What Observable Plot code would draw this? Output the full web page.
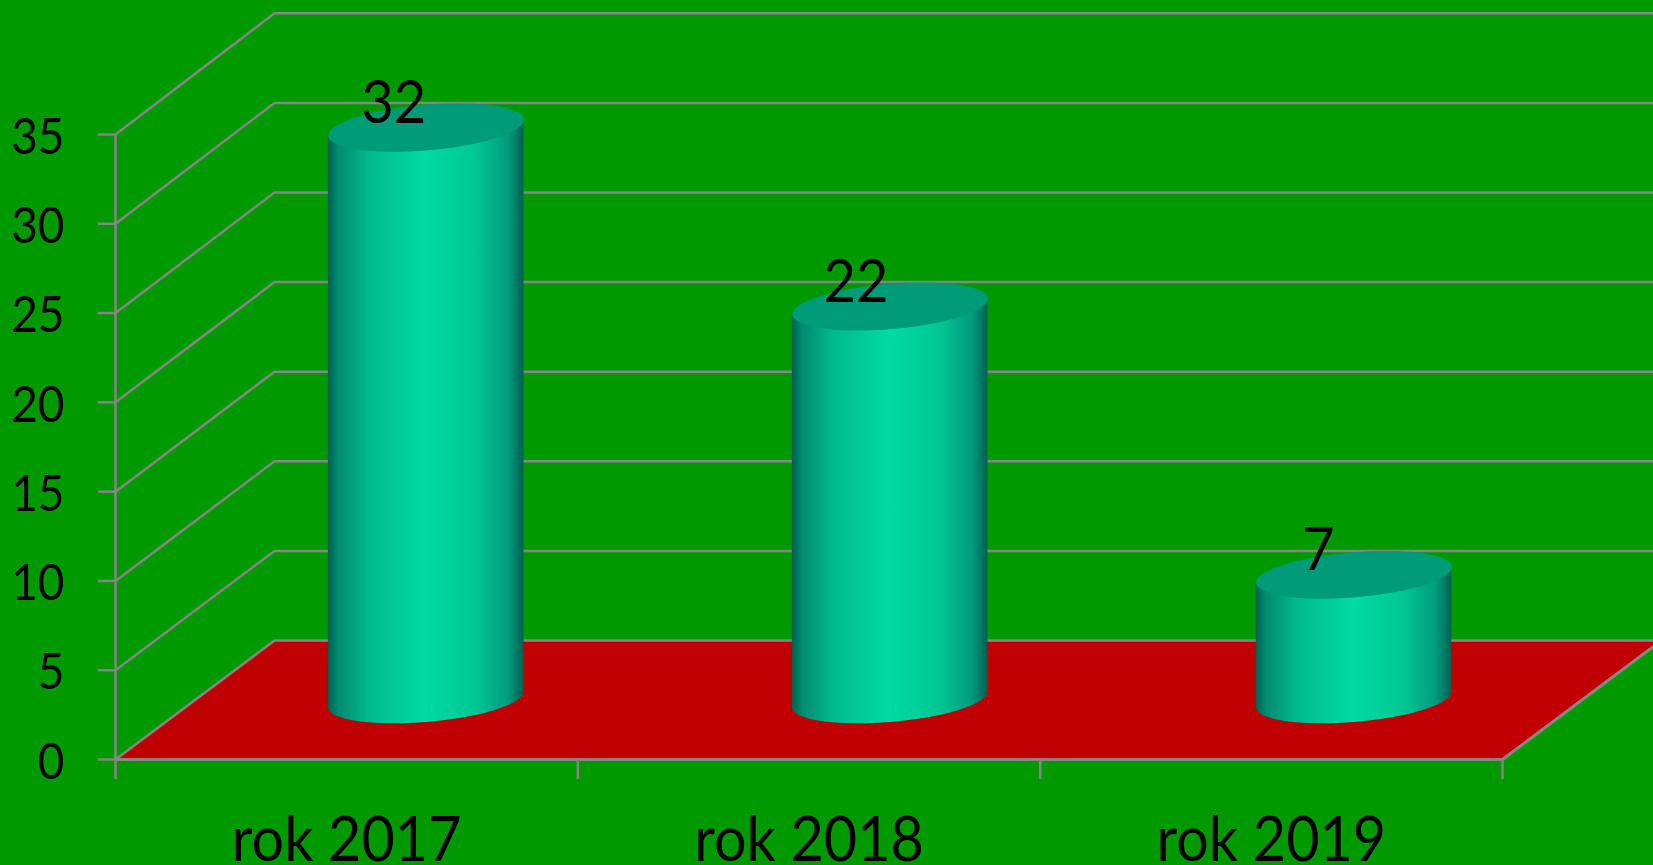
<!DOCTYPE html>
<html><head><meta charset="utf-8">
<script src="https://cdn.jsdelivr.net/npm/d3@7"></script>
<script src="https://cdn.jsdelivr.net/npm/@observablehq/plot@0.6"></script>
<style>html,body{margin:0;padding:0;background:#009900;overflow:hidden}svg{display:block}</style>
</head><body>
<script>
const categories = ["rok 2017","rok 2018","rok 2019"];
const values = [32,22,7];
const yTicks = [0,5,10,15,20,25,30,35];
const xEdges = [0,1,2,3];

const W=1653,H=865,L=115,R=1502,T=134,B=759;
const pxX=(R-L)/3, pxY=(B-T)/35;
const depthX=159, depthY=119;
// oblique projection: category position + depth (0..1) into data units
const px=(x,d)=>x+d*depthX/pxX;
const py=(v,d)=>v*(1+0.0035*d)+d*depthY/pxY;
const halfU=92.5/pxX, vDepth=0.2, spread=1.0035;
const ellipse=(c,v,t)=>{
  const ct=Math.cos(t), st=Math.sin(t);
  return {x:px(c+ct*halfU,0.5+st*vDepth), y:py(v,0.5+st*vDepth)};
};
const tLeft=Math.PI+Math.atan2(vDepth*depthX,92.5);
const N=80;
const bodies=[],tops=[];
categories.forEach((cat,i)=>{
  const c=0.5+i*spread, v=values[i];
  for(let k=0;k<=N;k++){
    const t=tLeft+Math.PI*k/N, a=ellipse(c,0,t), b=ellipse(c,v,t);
    bodies.push({cat,x:a.x,y1:a.y,y2:b.y});
  }
  for(let k=0;k<=2*N;k++){
    tops.push({cat,...ellipse(c,v,Math.PI*k/N)});
  }
});
const grid=yTicks.flatMap(v=>[
  {v,x:0,y:v},{v,x:px(0,1),y:py(v,1)},{v,x:px(3,1),y:py(v,1)}
]);
const floor=[{x:0,y:0},{x:px(0,1),y:py(0,1)},{x:px(3,1),y:py(0,1)},{x:3,y:0}];
const floorEdge=[{x:px(3,1),y:py(0,1)},{x:3,y:0},{x:0,y:0}];
const labels=categories.map((c,i)=>({x:px(i+0.5,0.296),y:py(values[i],0.296),t:String(values[i])}));
const gray="#868686", font="Lato, Carlito, sans-serif";

const defs=()=>{
  const s=d3.create("svg:g");
  const g=s.append("defs").append("linearGradient").attr("id","cyl");
  [[0,"#00604f"],[0.05,"#008a70"],[0.2,"#00b78e"],[0.5,"#00dba3"],[0.75,"#00c794"],[0.92,"#009c7e"],[1,"#006050"]]
   .forEach(([o,c])=>g.append("stop").attr("offset",o).attr("stop-color",c));
  return s.node();
};

const chart=Plot.plot({
  width:W,height:H,
  marginLeft:L,marginRight:W-R,marginTop:T,marginBottom:H-B,
  style:{background:"#009900",fontFamily:font},
  x:{type:"linear",domain:[0,3]},
  y:{type:"linear",domain:[0,35]},
  marks:[
    defs,
    Plot.line(floor,{x:"x",y:"y",fill:"#c00000",stroke:"none"}),
    Plot.line(grid,{x:"x",y:"y",z:"v",stroke:gray,strokeWidth:2.5,curve:"linear"}),
    Plot.line(floorEdge,{x:"x",y:"y",stroke:gray,strokeWidth:3}),
    Plot.ruleX([0],{y1:0,y2:35,stroke:gray,strokeWidth:2.5}),
    Plot.axisY({ticks:yTicks,tickSize:17,tickPadding:34,stroke:gray,strokeWidth:2.5,fill:"black",fontSize:46,fontFamily:font,label:null,tickFormat:d=>d}),
    Plot.axisX({ticks:xEdges,tickSize:20,stroke:gray,strokeWidth:2.5,tickFormat:()=>"",label:null}),
    Plot.axisX({ticks:[0.5,1.5,2.5],tickSize:0,tickPadding:57,fill:"black",fontSize:57.5,fontFamily:font,label:null,tickFormat:(d,i)=>categories[i]}),
    Plot.areaY(bodies,{x:"x",y1:"y1",y2:"y2",z:"cat",fill:"url(#cyl)",curve:"linear"}),
    Plot.line(tops,{x:"x",y:"y",z:"cat",fill:"#009b78",stroke:"none"}),
    Plot.text(labels,{x:"x",y:"y",text:"t",dy:-48,fontSize:56,fontFamily:font,fill:"black"})
  ]
});
// the reference's lettering is taller for its width than Lato: stretch each label vertically
const stretch=[["y-axis tick label",3,1.1],["x-axis tick label",0,1.08],["text",0,1.06]];
stretch.forEach(([name,shift,s])=>{
  chart.querySelectorAll(`g[aria-label="${name}"] text`).forEach(t=>{
    const tr=t.getAttribute("transform");
    if(tr) t.setAttribute("transform",`${tr} translate(0,${shift}) scale(1,${s})`);
  });
});
document.body.appendChild(chart);
</script>
</body></html>
